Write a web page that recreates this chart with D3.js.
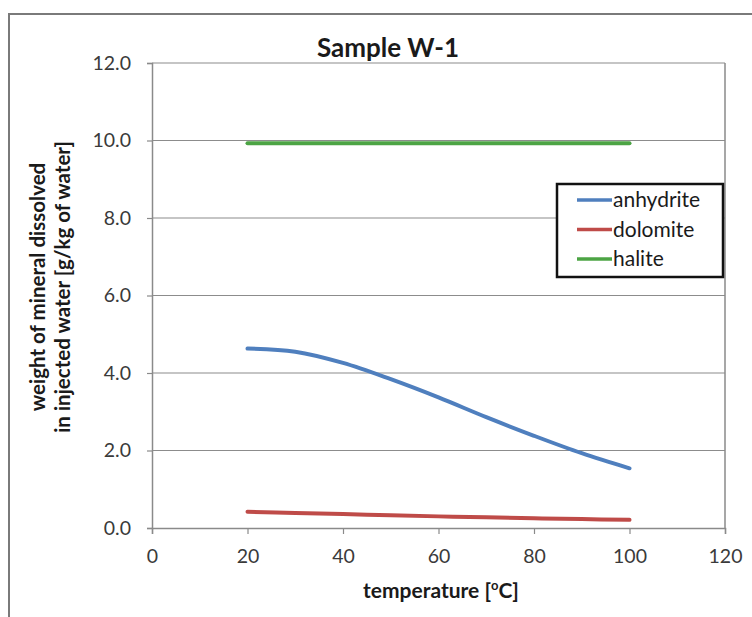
<!DOCTYPE html>
<html><head><meta charset="utf-8">
<script src="https://cdn.jsdelivr.net/npm/d3@7"></script>
<style>body{margin:0;background:#fff}svg{display:block}</style>
</head><body>
<script>
const temps = [20, 30, 40, 50, 60, 70, 80, 90, 100];
const anhydrite = [4.63, 4.55, 4.26, 3.84, 3.37, 2.86, 2.38, 1.93, 1.54];
const dolomite = [0.42, 0.39, 0.36, 0.33, 0.30, 0.275, 0.25, 0.23, 0.21];
const halite = [9.93, 9.93, 9.93, 9.93, 9.93, 9.93, 9.93, 9.93, 9.93];
const seriesNames = ["anhydrite", "dolomite", "halite"];
const seriesColors = ["#4f7fbe", "#bf4b48", "#4ca444"];
const xTicks = [0, 20, 40, 60, 80, 100, 120];
const yTicks = [0, 2, 4, 6, 8, 10, 12];

const W = 752, H = 617;
const svg = d3.select("body").append("svg").attr("width", W).attr("height", H);
const font = "Lato, 'Open Sans', sans-serif";

// outer frame
svg.append("path").attr("d", `M9,${H} L9,14 L${W},14`).attr("fill", "none")
  .attr("stroke", "#7a7a7a").attr("stroke-width", 2);

const x = d3.scaleLinear().domain([0, 120]).range([152, 725]);
const y = d3.scaleLinear().domain([0, 12]).range([528, 63]);

// gridlines
svg.append("g").selectAll("line").data(yTicks.filter(d => d > 0)).join("line")
  .attr("x1", x(0)).attr("x2", x(120)).attr("y1", d => y(d)).attr("y2", d => y(d))
  .attr("stroke", "#8c8c8c").attr("stroke-width", 1.2);

// plot border right
svg.append("line").attr("x1", x(120)).attr("x2", x(120)).attr("y1", y(12)).attr("y2", y(0))
  .attr("stroke", "#8a8a8a").attr("stroke-width", 1.5);

const yAxis = d3.axisLeft(y).tickValues(yTicks).tickFormat(d3.format(".1f")).tickSize(5).tickPadding(16);
const gy = svg.append("g").attr("transform", `translate(${x(0)},0)`).call(yAxis);
const xAxis = d3.axisBottom(x).tickValues(xTicks).tickSize(6).tickPadding(15);
const gx = svg.append("g").attr("transform", `translate(0,${y(0)})`).call(xAxis);
[gy, gx].forEach(g => {
  g.select(".domain").attr("stroke", "#8a8a8a").attr("stroke-width", 1.5);
  g.selectAll(".tick line").attr("stroke", "#8a8a8a").attr("stroke-width", 1.2);
  g.selectAll("text").attr("font-family", font).attr("font-size", 19.5).attr("fill", "#3a3a3a");
});

// lines
const allSeries = [anhydrite, dolomite, halite];
const line = d3.line().x((d, i) => x(temps[i])).y(d => y(d)).curve(d3.curveCatmullRom);
allSeries.forEach((s, k) => {
  svg.append("path").datum(s).attr("d", line).attr("fill", "none")
    .attr("stroke", seriesColors[k]).attr("stroke-width", 4).attr("stroke-linecap", "round");
});

// title
svg.append("text").attr("x", 388).attr("y", 57).attr("text-anchor", "middle")
  .attr("font-family", font).attr("font-weight", "bold").attr("font-size", 26).attr("fill", "#1a1a1a")
  .text("Sample W-1");

// y title
const yt = svg.append("text").attr("transform", "translate(0,287) rotate(-90)")
  .attr("text-anchor", "middle").attr("font-family", font).attr("font-weight", "bold")
  .attr("font-size", 20.5).attr("fill", "#1a1a1a");
yt.append("tspan").attr("x", 0).attr("y", 45).text("weight of mineral dissolved");
yt.append("tspan").attr("x", 0).attr("y", 70).text("in injected water [g/kg of water]");

// x title
const xt = svg.append("text").attr("x", 441).attr("y", 598).attr("text-anchor", "middle")
  .attr("font-family", font).attr("font-weight", "bold").attr("font-size", 21).attr("fill", "#1a1a1a");
xt.append("tspan").text("temperature [");
xt.append("tspan").attr("font-size", 13).attr("dy", -8).text("o");
xt.append("tspan").attr("dy", 8).text("C]");

// legend
const lg = svg.append("g");
lg.append("rect").attr("x", 557).attr("y", 184).attr("width", 166).attr("height", 93)
  .attr("fill", "#fff").attr("stroke", "#111").attr("stroke-width", 2.5);
seriesNames.forEach((n, i) => {
  const cy = 200 + i * 29.5;
  lg.append("line").attr("x1", 577).attr("x2", 612).attr("y1", cy).attr("y2", cy)
    .attr("stroke", seriesColors[i]).attr("stroke-width", 3.5);
  lg.append("text").attr("x", 613).attr("y", cy + 7).attr("font-family", font)
    .attr("font-size", 21).attr("fill", "#1a1a1a").text(n);
});
</script>
</body></html>
